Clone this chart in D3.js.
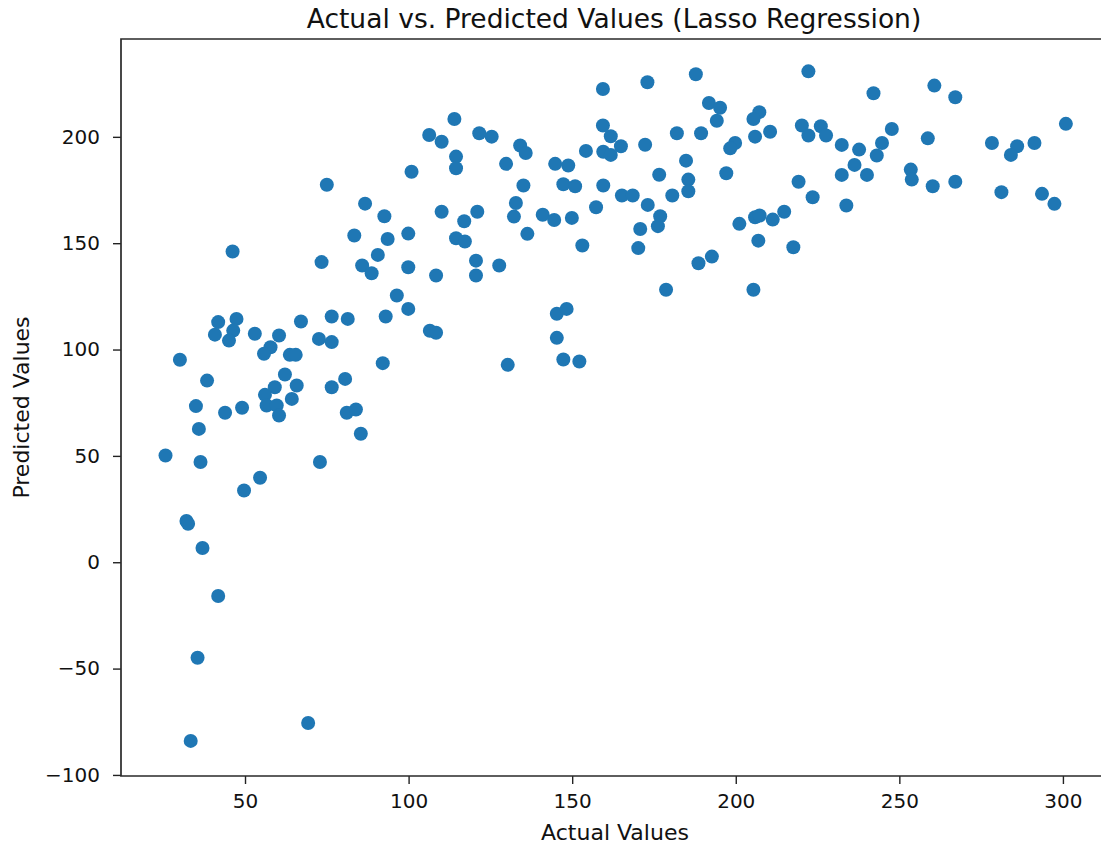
<!DOCTYPE html>
<html>
<head>
<meta charset="utf-8">
<script src="https://cdn.jsdelivr.net/npm/d3@7"></script>
<style>
  body { margin: 0; background: #ffffff; }
  svg { display: block; font-family: "DejaVu Sans", sans-serif; }
</style>
</head>
<body>
<svg id="chart" width="1101" height="845"></svg>
<script>

// actual values (x)
const actual = [
	106.3, 110.1, 100.9, 75.0, 86.7, 92.6, 110.1, 83.4, 93.6, 99.9,
	46.2, 90.6, 73.4, 85.8, 88.7, 99.9, 108.4, 114.0, 121.6, 125.4,
	114.5, 114.5, 134.1, 135.8, 129.8, 159.4, 173.0, 187.8, 159.4, 161.8,
	164.9, 159.5, 161.8, 154.2, 172.3, 182.0, 189.4, 191.8, 195.2, 194.2,
	207.2, 205.4, 205.9, 210.5, 199.8, 198.3, 197.1, 184.8, 185.5, 185.5,
	180.6, 176.6, 159.5, 147.3, 150.9, 144.8, 148.8, 135.1, 165.2, 168.5,
	173.1, 157.3, 132.8, 132.2, 117.0, 121.0, 141.0, 144.5, 149.9, 136.3,
	114.5, 117.2, 153.1, 170.8, 170.2, 176.9, 176.2, 201.1, 205.9, 207.3,
	206.9, 120.6, 120.6, 127.7, 188.6, 192.7, 222.2, 242.1, 260.7, 267.1,
	220.2, 222.2, 226.0, 227.6, 232.4, 237.7, 244.7, 247.7, 243.1, 236.3,
	232.4, 240.1, 219.2, 223.5, 233.8, 258.7, 253.5, 253.8, 260.2, 267.1,
	278.3, 286.0, 284.1, 291.3, 300.9, 281.2, 293.6, 297.4, 214.8, 211.3,
	217.6, 96.4, 99.9, 93.0, 106.5, 108.4, 92.1, 41.8, 47.4, 40.8,
	46.4, 45.1, 53.0, 60.4, 57.8, 55.8, 63.7, 65.5, 67.1, 76.5,
	81.4, 72.6, 76.5, 30.1, 38.4, 62.2, 65.8, 59.1, 56.1, 56.6,
	59.7, 60.4, 64.3, 80.6, 76.5, 35.0, 43.9, 49.1, 35.9, 25.7,
	36.4, 72.9, 81.1, 83.9, 85.4, 54.6, 49.7, 178.7, 205.4, 145.3,
	148.3, 145.3, 147.3, 152.2, 130.3, 32.1, 32.6, 37.0, 41.8, 35.5,
	69.3, 33.4
];

// predicted values (y), same order
const predicted = [
	200.9, 197.7, 183.6, 177.5, 168.6, 162.7, 164.8, 153.6, 152.0, 154.5,
	146.1, 144.5, 141.1, 139.5, 135.9, 138.7, 134.8, 208.4, 201.7, 200.1,
	190.7, 185.2, 195.9, 192.4, 187.3, 222.5, 225.7, 229.4, 205.3, 200.3,
	195.6, 193.0, 191.5, 193.4, 196.3, 201.7, 201.7, 215.9, 213.7, 207.6,
	211.6, 208.4, 200.1, 202.4, 197.1, 194.6, 182.9, 188.8, 179.9, 174.4,
	172.4, 182.2, 177.1, 177.7, 176.8, 187.3, 186.5, 177.1, 172.4, 172.4,
	168.0, 166.9, 168.9, 162.5, 160.3, 164.8, 163.4, 160.9, 161.9, 154.4,
	152.3, 150.8, 148.9, 156.7, 147.7, 162.7, 158.0, 159.1, 162.2, 163.0,
	151.2, 141.8, 134.8, 139.5, 140.6, 143.7, 230.8, 220.5, 224.1, 218.6,
	205.3, 200.6, 205.0, 200.6, 196.2, 194.0, 197.1, 203.7, 191.2, 186.8,
	182.1, 182.1, 178.9, 171.6, 167.7, 199.3, 184.6, 179.9, 176.8, 178.9,
	197.1, 195.6, 191.5, 197.1, 206.1, 174.0, 173.2, 168.5, 164.8, 161.1,
	148.1, 125.4, 119.1, 115.5, 108.8, 107.9, 93.6, 112.9, 114.4, 107.0,
	108.9, 104.2, 107.4, 106.6, 101.1, 98.0, 97.5, 97.5, 113.2, 115.5,
	114.4, 105.0, 103.5, 95.2, 85.4, 88.3, 83.1, 82.3, 78.7, 73.7,
	73.7, 69.0, 76.8, 86.2, 82.3, 73.4, 70.3, 72.6, 62.7, 50.2,
	47.1, 47.1, 70.3, 71.8, 60.4, 39.7, 33.7, 128.1, 128.1, 116.8,
	119.1, 105.5, 95.3, 94.4, 92.8, 19.4, 18.1, 6.7, -15.9, -44.9,
	-75.6, -84.0
];

const x_ticks = [50, 100, 150, 200, 250, 300];
const y_ticks = [-100, -50, 0, 50, 100, 150, 200];

const svg = d3.select('#chart');

// axes box, right side runs past the edge of the picture
const plot_left = 121, plot_right = 1112, plot_top = 39, plot_bottom = 776;

const x_scale = d3.scaleLinear().domain([12.4, 315]).range([122, plot_right]);
const y_scale = d3.scaleLinear().domain([-100.5, 246]).range([plot_bottom, plot_top]);

const points = actual.map((a,i) => { return {x: a, y: predicted[i]} });

svg.append('g')
		.selectAll('circle')
		.data(points)
		.enter()
	.append('circle')
		.attr('cx', d => x_scale(d.x))
		.attr('cy', d => y_scale(d.y))
		.attr('r', 7)
		.attr('fill', '#1f77b4');

// x axis
const x_axis = svg.append('g')
		.attr('transform', `translate(0,${plot_bottom})`)
		.call(d3.axisBottom(x_scale).tickValues(x_ticks).tickSize(8).tickPadding(10).tickFormat(d3.format('d')));

// y axis
const y_axis = svg.append('g')
		.attr('transform', `translate(${plot_left},0)`)
		.call(d3.axisLeft(y_scale).tickValues(y_ticks).tickSize(8).tickPadding(13)
			.tickFormat(d => d < 0 ? '\u2212' + Math.abs(d) : d));

[x_axis, y_axis].forEach(function(ax){
	ax.select('.domain').remove();
	ax.selectAll('.tick line').attr('stroke', '#222').attr('stroke-width', 1.4);
	ax.selectAll('.tick text').attr('fill', '#111').style('font-size', '20px').style('font-family', '"DejaVu Sans", sans-serif');
});

// spines: left, bottom, top (right one is cut off)
svg.append('path')
		.attr('d', `M${plot_right},${plot_top}H${plot_left}V${plot_bottom}H${plot_right}`)
		.attr('fill', 'none')
		.attr('stroke', '#2a2a2a')
		.attr('stroke-width', 1.7);

svg.append('text')
		.attr('x', 614)
		.attr('y', 28)
		.attr('text-anchor', 'middle')
		.attr('fill', '#111')
		.style('font-size', '26.5px')
		.text('Actual vs. Predicted Values (Lasso Regression)');

svg.append('text')
		.attr('x', 615)
		.attr('y', 840)
		.attr('text-anchor', 'middle')
		.attr('fill', '#111')
		.style('font-size', '22px')
		.text('Actual Values');

svg.append('text')
		.attr('transform', `translate(29,${(plot_top + plot_bottom)/2}) rotate(-90)`)
		.attr('text-anchor', 'middle')
		.attr('fill', '#111')
		.style('font-size', '22px')
		.text('Predicted Values');

</script>
</body>
</html>
